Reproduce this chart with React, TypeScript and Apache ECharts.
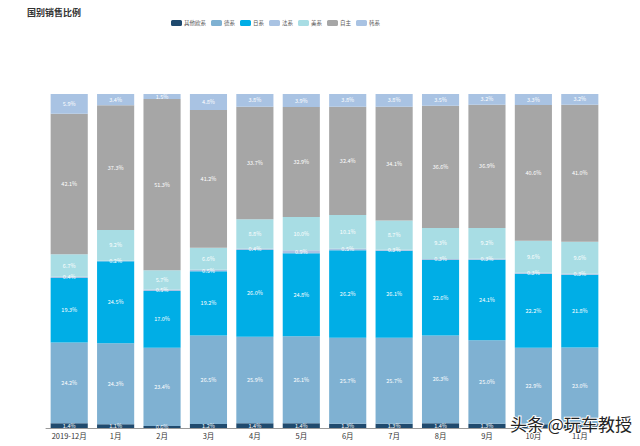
import React, { useEffect, useRef } from "react";
import * as echarts from "echarts";

const categories = ["2019-12月", "1月", "2月", "3月", "4月", "5月", "6月", "7月", "8月", "9月", "10月", "11月"];
const seriesNames = ["其他欧系", "德系", "日系", "法系", "美系", "自主", "韩系"];
const otherEU = [1.4, 1.1, 0.6, 1.2, 1.4, 1.4, 1.3, 1.3, 1.4, 1.3, 1.1, 1.1];
const german = [24.2, 24.3, 23.4, 26.5, 25.9, 26.1, 25.7, 25.7, 26.3, 25.0, 22.9, 23.0];
const japanese = [19.3, 24.5, 17.0, 19.2, 26.0, 24.8, 26.2, 26.1, 22.6, 24.1, 22.2, 21.8];
const french = [0.4, 0.2, 0.5, 0.5, 0.4, 0.9, 0.5, 0.3, 0.3, 0.3, 0.3, 0.3];
const american = [6.7, 9.2, 5.7, 6.6, 8.8, 10.0, 10.1, 8.7, 9.3, 9.2, 9.6, 9.6];
const domestic = [42.1, 37.3, 51.3, 41.2, 33.7, 32.9, 32.4, 34.1, 36.6, 36.9, 40.6, 41.0];
const korean = [5.9, 3.4, 1.5, 4.8, 3.8, 3.9, 3.8, 3.8, 3.5, 3.2, 3.3, 3.2];
const colors = ["#1f4a6e", "#7fb1d2", "#00aee6", "#a9c3e3", "#a8dde4", "#a6a6a6", "#a9c3e3"];

export default function App() {
  const ref = useRef<HTMLDivElement>(null);
  useEffect(() => {
    if (!ref.current) return;
    const chart = echarts.init(ref.current, null, { renderer: "svg" });
    const values = [otherEU, german, japanese, french, american, domestic, korean];
    chart.setOption({
      animation: false,
      backgroundColor: "#fff",
      textStyle: { fontFamily: "Noto Sans CJK SC" },
      title: {
        text: "国别销售比例",
        left: 22,
        top: 3,
        textStyle: { fontSize: 9, fontWeight: "bold", color: "#333" },
      },
      legend: {
        left: 166,
        top: 15,
        itemWidth: 11,
        itemHeight: 6,
        itemGap: 5,
        icon: "roundRect",
        textStyle: { fontSize: 5.5, color: "#555", padding: [0, 0, 0, -3] },
        data: seriesNames,
      },
      grid: { left: 46, right: 37, top: 94, bottom: 18 },
      xAxis: {
        type: "category",
        data: categories,
        axisLine: { lineStyle: { color: "#999" } },
        axisTick: { lineStyle: { color: "#999" }, length: 3 },
        axisLabel: { fontSize: 7.5, color: "#333", margin: 4, interval: 0 },
      },
      yAxis: {
        type: "value",
        min: 0,
        max: 100,
        show: false,
      },
      series: seriesNames.map((name, i) => ({
        name,
        type: "bar",
        stack: "total",
        barWidth: "80%",
        data: values[i],
        itemStyle: { color: colors[i] },
        label: {
          show: true,
          position: "inside",
          fontSize: 5.5,
          color: "#fff",
          formatter: (p: any) => p.value.toFixed(1) + "%",
        },
      })),
      graphic: [
        {
          type: "text",
          left: 509,
          top: 414,
          z: 100,
          style: {
            text: "头条 @玩车教授",
            fontSize: 17,
            fontFamily: "Noto Sans CJK SC",
            fill: "#222",
            stroke: "#fff",
            lineWidth: 2,
          },
        },
      ],
    });
    return () => chart.dispose();
  }, []);
  return (
    <div
      ref={ref}
      style={{ position: "fixed", left: 0, top: 0, width: 640, height: 446 }}
    />
  );
}
